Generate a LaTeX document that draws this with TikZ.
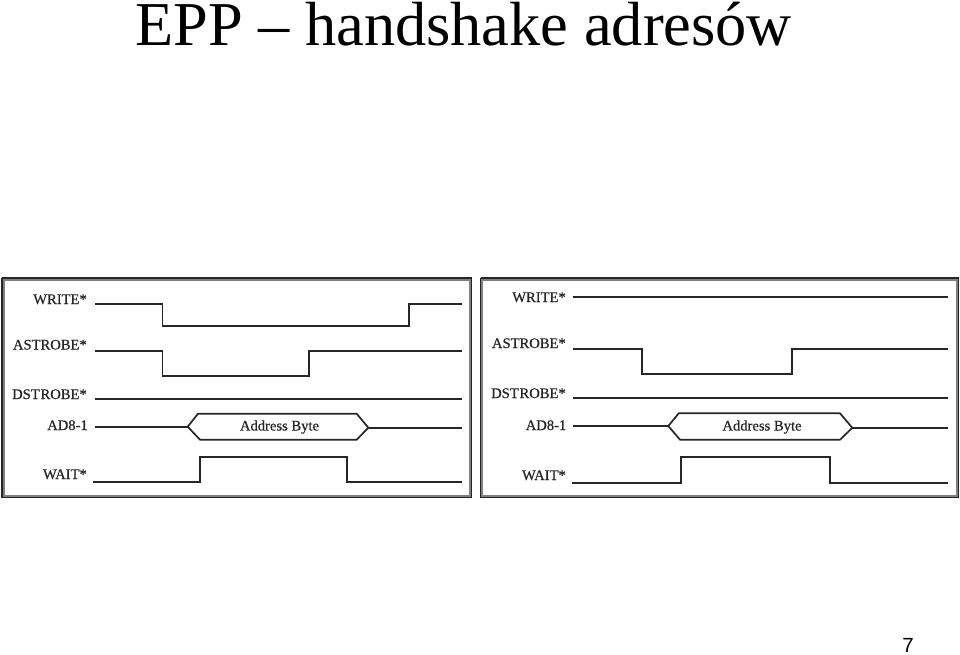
\documentclass[tikz,border=0pt]{standalone}
\usetikzlibrary{calc}
\usepackage{fontspec}
\setmainfont{Liberation Serif}
\newfontfamily\pagefont{Liberation Sans}
\newfontfamily\labfont[FakeBold=0.6]{Liberation Serif}
\tikzset{
  x=1pt,y=-1pt,
  wave/.style={line width=1.7pt,color=black!85,line join=miter},
  lab/.style={anchor=base east,inner sep=0pt,font=\labfont\fontsize{14.6}{15}\selectfont,color=black!85},
  bustext/.style={inner sep=0pt,font=\labfont\fontsize{14.6}{15}\selectfont,color=black!85},
  frameout/.style={line width=3pt,color=black!50},
  framein/.style={line width=1.2pt,color=black!85}
}
\begin{document}
\begin{tikzpicture}
\useasboundingbox (0,0) rectangle (960,654);
\node[anchor=base west,inner sep=0pt,text height=43pt,text depth=0pt,font=\fontsize{62.4}{63}\selectfont] (title) at (135,45) {EPP – handshake adresów};
\node[anchor=base,inner sep=0pt,text depth=0pt,font=\pagefont\fontsize{20.5}{21}\selectfont] (pageno) at (908,652.5) {7};
% left panel
\coordinate (lnw) at (3,279);
\coordinate (lse) at (470.5,496.5);
\draw[frameout] (lnw) rectangle (lse);
\draw[framein] ($(lnw)+(-1,-1)$) -- ($(lse|-lnw)+(1,-1)$);
\draw[framein] ($(lnw)+(-1,-1)$) -- ($(lnw|-lse)+(-1,1)$);
\draw[framein] ($(lse)+(1,1)$) -- ($(lnw|-lse)+(-1,1)$);
\draw[framein] ($(lse)+(1,1)$) -- ($(lse|-lnw)+(1,-1)$);
\node[lab] (lw) at (87,304) {WRITE*};
\node[lab] (la) at (87,349.5) {ASTROBE*};
\node[lab] (ld) at (87,399) {DST\kern0.8pt ROBE*};
\node[lab] (lb) at (88,430) {AD8-1};
\node[lab] (lt) at (87,479) {WAIT*};
\coordinate (lwa) at (95,304);
\coordinate (lwb) at (462,304);
\draw[wave] (lwa) -- (162.5,304) -- (162.5,326) -- (409,326) -- (409,304) -- (lwb);
\coordinate (laa) at (95,350.7);
\coordinate (lab) at (462,350.7);
\draw[wave] (laa) -- (162.5,350.7) -- (162.5,375.7) -- (309,375.7) -- (309,350.7) -- (lab);
\coordinate (lda) at (95,399);
\coordinate (ldb) at (462,399);
\draw[wave] (lda) -- (ldb);
\coordinate (lba) at (95,426.7);
\coordinate (lbl) at (187.7,426.7);
\coordinate (lbr) at (368.3,427.7);
\coordinate (lbb) at (462,427.7);
\draw[wave] (lba) -- (lbl);
\draw[wave] (lbl) -- (198,413.7) -- (356.7,413.7) -- (lbr) -- (356.7,439.7) -- (200,439.7) -- (lbl);
\draw[wave] (lbr) -- (lbb);
\node[bustext] (lbt) at (279.5,427) {Address Byte};
\coordinate (lta) at (93,481.7);
\coordinate (ltb) at (462,481.7);
\draw[wave] (lta) -- (200,481.7) -- (200,457.3) -- (347,457.3) -- (347,481.7) -- (ltb);
% right panel
\coordinate (rnw) at (481.5,279);
\coordinate (rse) at (957.5,496.5);
\draw[frameout] (rnw) rectangle (rse);
\draw[framein] ($(rnw)+(-1,-1)$) -- ($(rse|-rnw)+(1,-1)$);
\draw[framein] ($(rnw)+(-1,-1)$) -- ($(rnw|-rse)+(-1,1)$);
\draw[framein] ($(rse)+(1,1)$) -- ($(rnw|-rse)+(-1,1)$);
\draw[framein] ($(rse)+(1,1)$) -- ($(rse|-rnw)+(1,-1)$);
\node[lab] (rw) at (566,302) {WRITE*};
\node[lab] (ra) at (566,348) {ASTROBE*};
\node[lab] (rd) at (566,398) {DST\kern0.8pt ROBE*};
\node[lab] (rb) at (566.5,430) {AD8-1};
\node[lab] (rt) at (566,480) {WAIT*};
\coordinate (rwa) at (573.3,297.3);
\coordinate (rwb) at (948.3,297.3);
\draw[wave] (rwa) -- (rwb);
\coordinate (raa) at (573.3,349.3);
\coordinate (rab) at (948.3,349.3);
\draw[wave] (raa) -- (642.3,349.3) -- (642.3,374.3) -- (792,374.3) -- (792,349.3) -- (rab);
\coordinate (rda) at (573.3,398.3);
\coordinate (rdb) at (948.3,398.3);
\draw[wave] (rda) -- (rdb);
\coordinate (rba) at (573.3,426);
\coordinate (rbl) at (668.3,426);
\coordinate (rbr) at (852.3,427.8);
\coordinate (rbb) at (948.3,427.8);
\draw[wave] (rba) -- (rbl);
\draw[wave] (rbl) -- (678.7,413.3) -- (840,413.3) -- (rbr) -- (840,439.7) -- (680,439.7) -- (rbl);
\draw[wave] (rbr) -- (rbb);
\node[bustext] (rbt) at (762,427) {Address Byte};
\coordinate (rta) at (572,482.7);
\coordinate (rtb) at (948.3,482.7);
\draw[wave] (rta) -- (680.7,482.7) -- (680.7,457.3) -- (830.3,457.3) -- (830.3,482.7) -- (rtb);
\end{tikzpicture}
\end{document}
